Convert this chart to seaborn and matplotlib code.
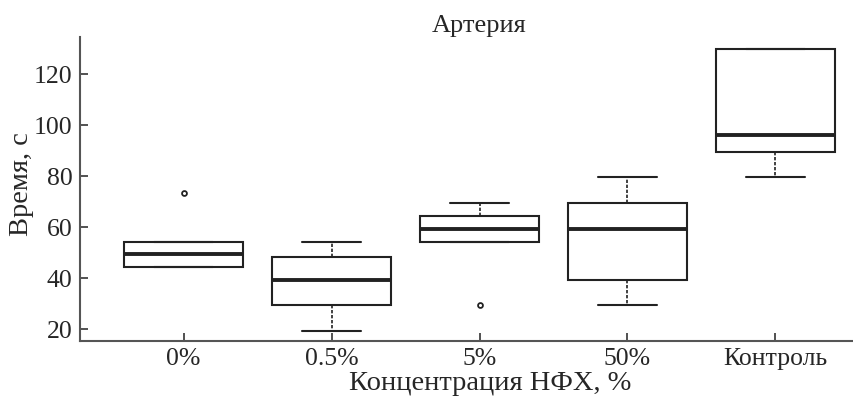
import matplotlib
matplotlib.use("Agg")
import matplotlib.pyplot as plt
import seaborn as sns
import pandas as pd

categories = ["0%", "0.5%", "5%", "50%", "Контроль"]
times_0 = [44.3, 44.3, 44.3, 49.3, 49.3, 54.3, 54.3, 54.3, 73.4]
times_05 = [19.1, 29.3, 39.4, 48.4, 54.3]
times_5 = [29.3, 54.3, 54.3, 57.0, 59.3, 62.0, 64.4, 69.5, 69.5]
times_50 = [29.3, 39.4, 59.3, 69.5, 79.5]
times_ctrl = [79.7, 89.6, 96.3, 129.8, 129.8]

groups = [times_0, times_05, times_5, times_50, times_ctrl]
df = pd.DataFrame({
    "cat": [c for c, g in zip(categories, groups) for _ in g],
    "t": [v for g in groups for v in g],
})

sns.set_style("ticks")
plt.rcParams["font.family"] = ["Liberation Serif", "DejaVu Serif"]

fig = plt.figure(figsize=(8.54, 4.0), dpi=100)
# axes extends slightly past the right edge (reference is cropped)
ax = fig.add_axes([80 / 854, 59 / 400, 799 / 854, 304 / 400])

sns.boxplot(data=df, x="cat", y="t", order=categories, ax=ax, width=0.8,
            color="white", linecolor="#222222", linewidth=1.5,
            whis=1.5,
            whiskerprops=dict(linestyle=(0, (2, 1)), linewidth=1.2, color="#222222"),
            capprops=dict(linewidth=1.5, color="#222222"),
            medianprops=dict(linewidth=2.8, color="#222222"),
            flierprops=dict(marker="o", markersize=3.5, markerfacecolor="none",
                            markeredgecolor="#222222", markeredgewidth=1.3))

ax.set_xlim(-0.7, 4.7)
ax.set_ylim(15.3, 134.6)
ax.set_yticks([20, 40, 60, 80, 100, 120])
ax.set_xlabel("Концентрация НФХ, %", fontsize=20.5, labelpad=1)
ax.set_ylabel("Время, с", fontsize=20.5, labelpad=0)
ax.xaxis.label.set_x((490 - 80) / 799)
ax.yaxis.label.set_y((341 - 184) / 304)
ax.set_title("Артерия", fontsize=19, pad=2)
ax.tick_params(direction="in", length=6, width=1.2, labelsize=18.5, color="#333333")
ax.tick_params(axis="y", pad=5.5)
ax.tick_params(axis="x", pad=5)
for side in ["top", "right"]:
    ax.spines[side].set_visible(False)
for side in ["left", "bottom"]:
    ax.spines[side].set_color("#555555")
    ax.spines[side].set_linewidth(1.5)

fig.savefig("out.png", dpi=100)
